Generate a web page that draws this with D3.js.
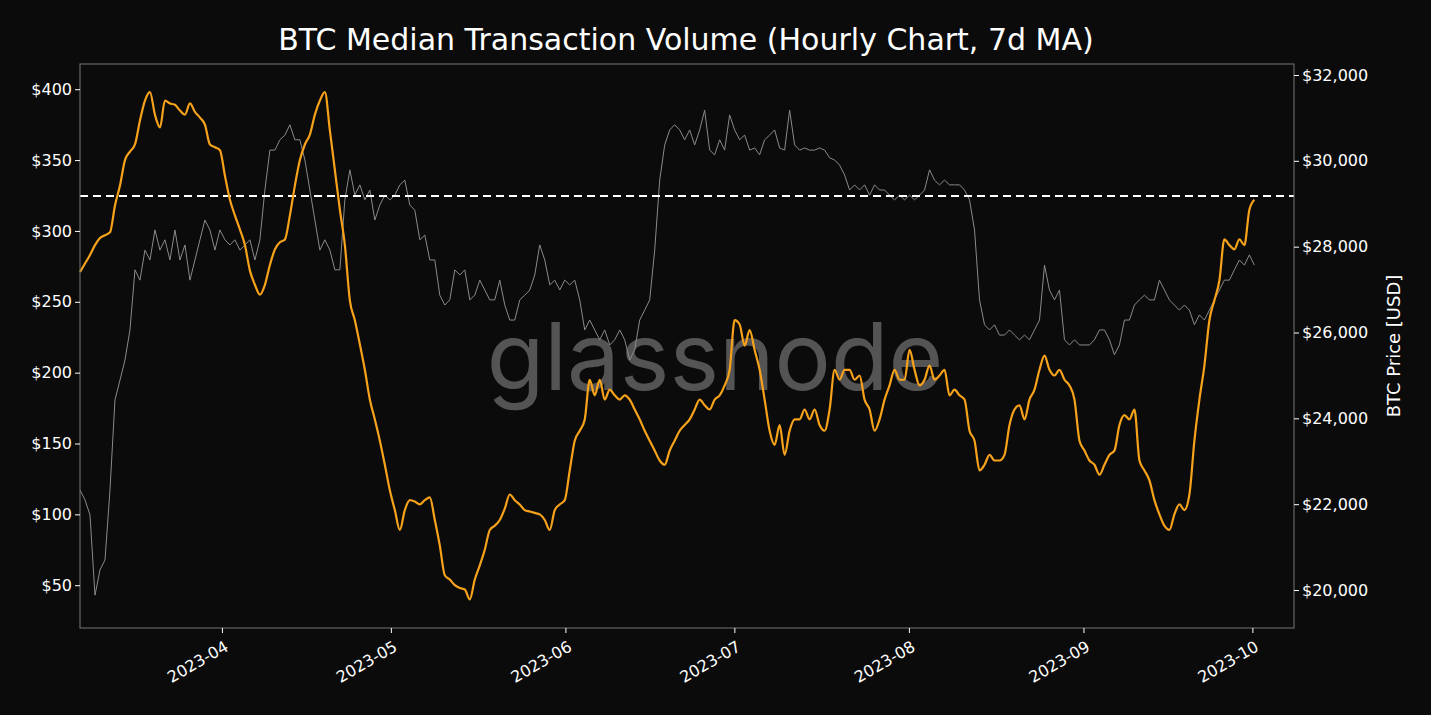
<!DOCTYPE html>
<html><head><meta charset="utf-8">
<script src="https://cdn.jsdelivr.net/npm/d3@7"></script>
<style>body{margin:0;background:#0b0b0b;}svg{display:block;font-family:"DejaVu Sans",sans-serif;}</style>
</head><body><svg id="c" width="1431" height="715"></svg>
<script>
const title = "BTC Median Transaction Volume (Hourly Chart, 7d MA)";
const rightLabel = "BTC Price [USD]";
const seriesStart = "2023-03-06T19:00:00";
const stepHours = 21.3;
const medianVolume = [271,277,283,290,295,297,299,318,332,350,356,361,378,392,398,382,373,392,390,389,385,382,390,384,380,375,361,359,357,339,322,311,301,290,272,262,255,262,276,287,292,294,311,332,350,361,368,382,392,398,371,343,315,290,251,237,220,202,181,167,152,135,117,103,89,103,110,109,107,110,112,96,78,57,54,50,48,47,40,54,64,75,89,92,96,104,114,110,107,103,102,101,100,96,89,103,107,110,131,152,159,167,195,184,195,181,188,184,181,184,181,174,167,159,152,145,138,135,145,152,159,163,167,174,181,177,174,181,184,191,202,237,234,219,230,216,202,181,159,149,163,142,159,167,167,174,167,174,163,159,174,202,195,202,202,195,198,181,174,159,167,181,191,202,195,195,216,202,191,195,205,195,198,202,184,188,184,181,159,152,131,135,142,138,138,142,163,174,177,167,181,188,202,212,202,198,202,195,191,181,152,145,138,135,128,135,142,145,163,170,167,174,138,131,124,110,100,92,89,100,107,103,114,152,181,205,237,251,265,294,290,287,294,290,315,322];
const btcPrice = [22330,22100,21750,19880,20470,20700,22330,24430,24890,25360,26060,27460,27220,27920,27690,28390,27920,28160,27690,28390,27690,28040,27220,27690,28160,28620,28390,27920,28390,28160,28040,28160,27920,28040,28160,27690,28160,29320,30250,30250,30490,30600,30840,30490,30490,30020,29320,28620,27920,28160,27920,27460,27460,29090,29790,29200,29440,29090,29320,28620,28970,29200,29090,29200,29440,29550,28970,28850,28160,28270,27690,27690,26870,26640,26760,27460,27340,27460,26760,26870,27220,26990,26760,26760,27220,26640,26290,26290,26760,26870,26990,27340,28040,27690,27110,27220,26990,27220,27110,27220,26760,26060,26290,26060,25830,26060,25710,25830,26060,25830,25360,25600,26290,26520,26760,27920,29550,30370,30720,30840,30720,30490,30720,30370,30720,31180,30250,30140,30490,30250,31070,30720,30490,30600,30250,30300,30140,30490,30600,30720,30300,30250,31180,30370,30250,30300,30250,30250,30300,30250,30070,30020,29900,29670,29320,29440,29320,29440,29200,29440,29320,29320,29200,29090,29200,29090,29200,29090,29200,29320,29790,29550,29440,29550,29440,29440,29440,29320,29090,28390,26760,26180,26060,26180,25940,25940,26060,25940,25830,25940,25830,26060,26290,27570,26990,26760,26990,25830,25710,25830,25710,25710,25710,25830,26060,26060,25830,25480,25710,26290,26290,26640,26760,26870,26760,26760,27220,26990,26760,26640,26520,26640,26520,26180,26410,26290,26520,26760,26990,27220,27220,27460,27690,27570,27810,27570];
const leftTicks = [50,100,150,200,250,300,350,400];
const rightTicks = [20000,22000,24000,26000,28000,30000,32000];
const referenceLevel = 324.6;

const svg = d3.select("#c");
const L=80,R=1294,T=64,B=628;
const t0 = new Date(seriesStart);
const dateAt = i => new Date(t0.getTime()+i*stepHours*3600e3);
const x = d3.scaleTime().domain([t0, new Date(t0.getTime()+215.6*86400e3)]).range([L,R]);
const yL = d3.scaleLinear().domain([19.8,417.8]).range([B,T]);
const yR = d3.scaleLinear().domain([19115,32256]).range([B,T]);

svg.append("text").attr("x",686).attr("y",50).attr("text-anchor","middle").attr("fill","#fff").attr("font-size",30).text(title);
svg.append("text").attr("x",715).attr("y",390).attr("text-anchor","middle").attr("fill","#fff").attr("fill-opacity",0.3).attr("font-size",94).attr("font-family","Inter, sans-serif").attr("font-weight",400).text("glassnode");

const g = svg.append("g");
g.append("path").datum(btcPrice).attr("fill","none").attr("stroke","#8a8a8a").attr("stroke-width",1)
 .attr("d", d3.line().x((d,i)=>x(dateAt(i))).y(d=>yR(d)));
g.append("line").attr("x1",L).attr("x2",R).attr("y1",yL(referenceLevel)).attr("y2",yL(referenceLevel))
 .attr("stroke","#fff").attr("stroke-width",2).attr("stroke-dasharray","8,5");
g.append("path").datum(medianVolume).attr("fill","none").attr("stroke","#f7a21b").attr("stroke-width",2.2)
 .attr("d", d3.line().curve(d3.curveMonotoneX).x((d,i)=>x(dateAt(i))).y(d=>yL(d)));
svg.append("rect").attr("x",L).attr("y",T).attr("width",R-L).attr("height",B-T).attr("fill","none").attr("stroke","#777").attr("stroke-width",1);

const ax = svg.append("g").attr("transform",`translate(0,${B})`)
 .call(d3.axisBottom(x).ticks(d3.timeMonth.every(1)).tickFormat(d3.timeFormat("%Y-%m")).tickSize(5));
ax.selectAll("text").attr("fill","#fff").attr("font-size",16).attr("text-anchor","end").attr("transform","rotate(-30)").attr("dx","-0.3em").attr("dy","0.9em");
const al = svg.append("g").attr("transform",`translate(${L},0)`).call(d3.axisLeft(yL).tickValues(leftTicks).tickFormat(d=>"$"+d).tickSize(5));
al.selectAll("text").attr("fill","#fff").attr("font-size",16);
const ar = svg.append("g").attr("transform",`translate(${R},0)`).call(d3.axisRight(yR).tickValues(rightTicks).tickFormat(d=>"$"+d3.format(",")(d)).tickSize(5));
ar.selectAll("text").attr("fill","#fff").attr("font-size",16);
svg.selectAll(".tick text").attr("font-family","DejaVu Sans, sans-serif");
svg.selectAll("g").filter(function(){return this.hasAttribute("font-family");}).attr("font-family","DejaVu Sans, sans-serif");
svg.selectAll(".domain").remove();
svg.selectAll(".tick line").attr("stroke","#fff");
svg.append("text").attr("transform","translate(1400,346) rotate(-90)").attr("text-anchor","middle").attr("fill","#fff").attr("font-size",18).text(rightLabel);
</script></body></html>
